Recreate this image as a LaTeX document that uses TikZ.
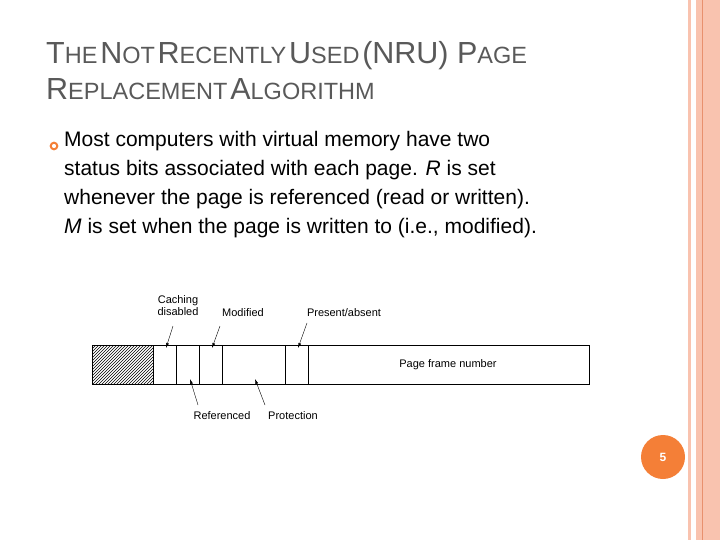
\documentclass[tikz,border=0pt]{standalone}
\usepackage{fontspec}
\setmainfont{Liberation Sans}
\usetikzlibrary{patterns,arrows.meta}
\definecolor{salm}{HTML}{F9C3AF}
\definecolor{salmd}{HTML}{E8906E}
\definecolor{orng}{HTML}{F47F37}
\definecolor{ttl}{HTML}{595959}
\tikzset{lbl/.style={font=\fontsize{11}{12}\selectfont, align=center, inner sep=0pt},
  arr/.style={-{Latex[length=5pt,width=3pt]}, thin},
  cell/.style={draw, line width=0.9pt}}
\newcommand{\TtlBig}[1]{{\fontsize{30.5}{32}\selectfont #1}}
\newcommand{\TtlSm}[1]{{\fontsize{23.5}{25}\selectfont #1}}
\begin{document}
\begin{tikzpicture}[x=1pt,y=-1pt]
\useasboundingbox (0,0) rectangle (720,540);
\fill[salm] (688,0) rectangle (691,540);
\fill[salm] (696,0) rectangle (720,540);
\draw[salmd, thin] (702,0) -- (702,540);
% title
\node[anchor=base west, text=ttl, inner sep=0pt] (t1) at (46,64) {\TtlBig{T}\TtlSm{HE} \TtlBig{N}\TtlSm{OT} \TtlBig{R}\TtlSm{ECENTLY} \TtlBig{U}\TtlSm{SED} \TtlBig{(NRU) P}\TtlSm{AGE}};
\node[anchor=base west, text=ttl, inner sep=0pt] (t2) at (46,100) {\TtlBig{R}\TtlSm{EPLACEMENT} \TtlBig{A}\TtlSm{LGORITHM}};
% bullet
\draw[orng, line width=2pt] (54,146) circle (3.3) node (b) {};
\node[anchor=north west, inner sep=0pt, align=left, font=\fontsize{21}{29}\selectfont] (body) at (64,131) {Most computers with virtual memory have two\\
status bits associated with each page. \textit{R} is set\\
whenever the page is referenced (read or written).\\
\textit{M} is set when the page is written to (i.e., modified).};
% bar
\draw[cell, pattern=north east lines] (92,345) rectangle (153,384);
\draw[cell] (153,345) rectangle (589,384);
\foreach \xx in {176,199,222,285,308} \draw[cell] (\xx,345) -- (\xx,384);
\node[lbl] (pfn) at (448,365) {Page frame number};
\node[lbl] (cd) at (178,306) {Caching\\disabled};
\node[lbl] (mo) at (243,313) {Modified};
\node[lbl] (pa) at (344,313) {Present/absent};
\node[lbl] (re) at (222,416) {Referenced};
\node[lbl] (pr) at (293,416) {Protection};
\coordinate (cdt) at (166,348); \coordinate (mot) at (212,348); \coordinate (pat) at (298,348);
\coordinate (ret) at (190,379); \coordinate (prt) at (255,379);
\draw[arr] (173,326) -- (cdt);
\draw[arr] (220,326) -- (mot);
\draw[arr] (307,323) -- (pat);
\draw[arr] (198,405) -- (ret);
\draw[arr] (265,405) -- (prt);
% page number
\fill[orng] (663,457) circle (22);
\node[text=white, font=\bfseries\fontsize{12}{12}\selectfont] (pn) at (663,457) {5};
\end{tikzpicture}
\end{document}
